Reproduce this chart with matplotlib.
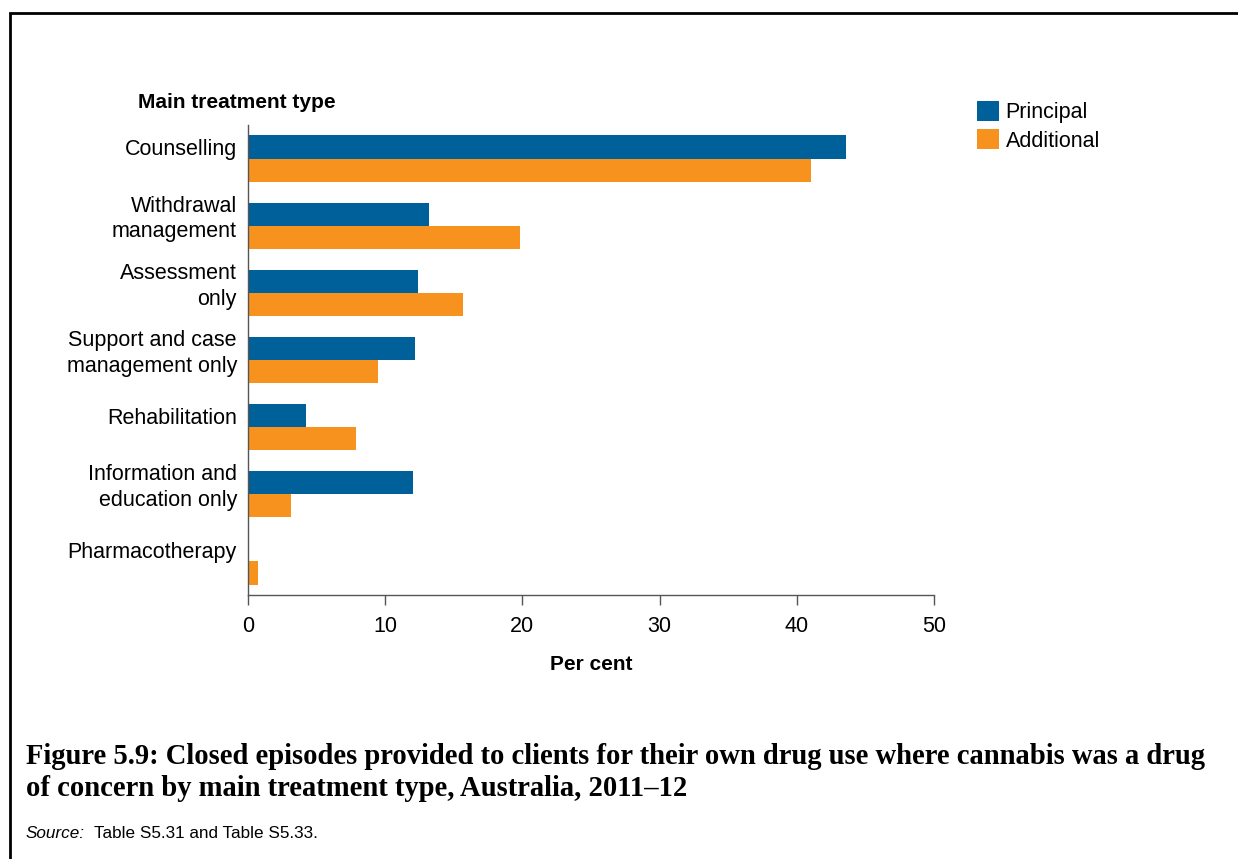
import numpy as np
import matplotlib.pyplot as plt
from matplotlib.patches import Rectangle

categories = ['Counselling', 'Withdrawal\nmanagement', 'Assessment\nonly',
              'Support and case\nmanagement only', 'Rehabilitation',
              'Information and\neducation only', 'Pharmacotherapy']
principal = [43.6, 13.2, 12.4, 12.2, 4.2, 12.0, 0.1]
additional = [41.0, 19.8, 15.7, 9.5, 7.9, 3.1, 0.7]
xticks = [0, 10, 20, 30, 40, 50]

blue = '#00609a'
orange = '#f7921e'
axis_grey = '#555555'

plt.rcParams['font.family'] = ['Liberation Sans', 'DejaVu Sans']

fig = plt.figure(figsize=(12.38, 8.59), dpi=100)
ax = fig.add_axes([248 / 1238, 1 - 595 / 859, 686 / 1238, 470 / 859])

y = np.arange(len(categories))
h = 0.345
ax.barh(y - h / 2, principal, height=h, color=blue, label='Principal')
ax.barh(y + h / 2, additional, height=h, color=orange, label='Additional')

ax.set_xlim(0, 50)
ax.set_ylim(len(categories) - 0.5, -0.5)
ax.set_xticks(xticks)
ax.set_xticklabels([str(t) for t in xticks], fontsize=15.5)
# labels sit level with the principal bar
ax.set_yticks(y - h / 2)
ax.set_yticklabels(categories, fontsize=15.5, linespacing=1.3)
ax.tick_params(axis='y', length=0, pad=8)
ax.tick_params(axis='x', length=7, width=1, color=axis_grey, pad=8)
for s in ['top', 'right']:
    ax.spines[s].set_visible(False)
for s in ['left', 'bottom']:
    ax.spines[s].set_color(axis_grey)
    ax.spines[s].set_linewidth(1)

ax.set_xlabel('Per cent', fontsize=15, fontweight='bold', labelpad=13)
fig.text(138 / 1238, 1 - 102 / 859, 'Main treatment type', fontsize=15,
         fontweight='bold', va='center', ha='left')

leg = fig.legend(loc='upper left', bbox_to_anchor=(968 / 1238, 1 - 92 / 859),
                 frameon=False, fontsize=15.5, handlelength=1.05, handleheight=1.05,
                 handletextpad=0.3, labelspacing=0.3, borderaxespad=0)

# outer frame
fig.patches.append(Rectangle((10 / 1238, -0.1), 1.2, 1 - 13 / 859 + 0.1,
                             transform=fig.transFigure, fill=False,
                             edgecolor='black', linewidth=2))

cap1 = fig.text(26 / 1238, 1 - 757 / 859,
                'Figure 5.9: Closed episodes provided to clients for their own drug use where cannabis was a drug',
                fontsize=18, fontweight='bold', family='Liberation Serif',
                va='center', ha='left')
cap2 = fig.text(26 / 1238, 1 - 788 / 859,
                'of concern by main treatment type, Australia, 2011\u201312',
                fontsize=18, fontweight='bold', family='Liberation Serif',
                va='center', ha='left')
# fit the caption to the width used in the reference
r = fig.canvas.get_renderer()
w = cap1.get_window_extent(r).width
fs = 18 * 1179 / w
cap1.set_fontsize(fs)
cap2.set_fontsize(fs)

fig.text(26 / 1238, 1 - 834 / 859, 'Source:', fontsize=12.3, style='italic',
         va='center', ha='left')
fig.text(94 / 1238, 1 - 834 / 859, 'Table S5.31 and Table S5.33.', fontsize=12.3,
         va='center', ha='left')

fig.savefig('out.png', dpi=100)
